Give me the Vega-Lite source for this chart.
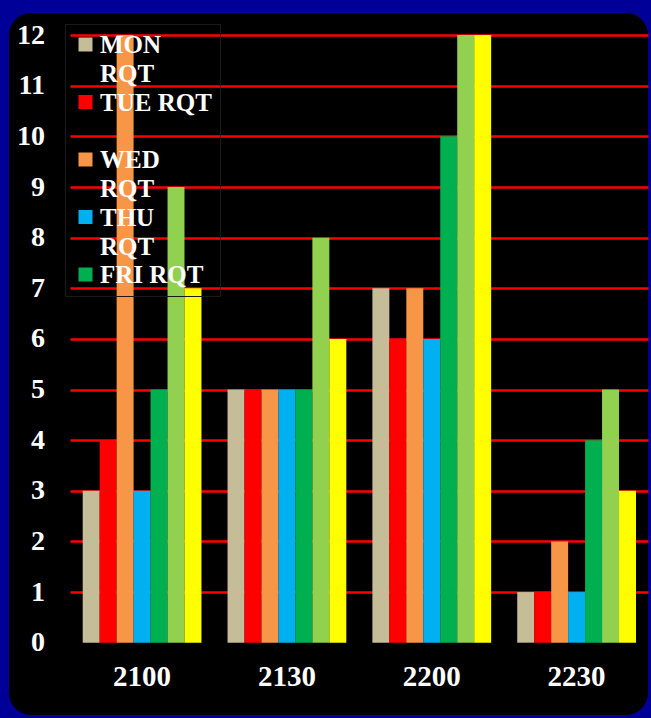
{
  "$schema": "https://vega.github.io/schema/vega-lite/v6.json",
  "width": 639,
  "height": 702,
  "autosize": {"type": "none"},
  "padding": {"left": 9, "top": 13, "right": 3, "bottom": 3},
  "background": "#000099",
  "config": {
    "view": {"fill": "#000000", "stroke": null, "cornerRadius": 22},
    "font": "Liberation Serif"
  },
  "data": {
    "values": [
      {"time": "2100", "series": "MON RQT", "value": 3},
      {"time": "2100", "series": "TUE RQT", "value": 4},
      {"time": "2100", "series": "WED RQT", "value": 12},
      {"time": "2100", "series": "THU RQT", "value": 3},
      {"time": "2100", "series": "FRI RQT", "value": 5},
      {"time": "2100", "series": "SAT RQT", "value": 9},
      {"time": "2100", "series": "SUN RQT", "value": 7},
      {"time": "2130", "series": "MON RQT", "value": 5},
      {"time": "2130", "series": "TUE RQT", "value": 5},
      {"time": "2130", "series": "WED RQT", "value": 5},
      {"time": "2130", "series": "THU RQT", "value": 5},
      {"time": "2130", "series": "FRI RQT", "value": 5},
      {"time": "2130", "series": "SAT RQT", "value": 8},
      {"time": "2130", "series": "SUN RQT", "value": 6},
      {"time": "2200", "series": "MON RQT", "value": 7},
      {"time": "2200", "series": "TUE RQT", "value": 6},
      {"time": "2200", "series": "WED RQT", "value": 7},
      {"time": "2200", "series": "THU RQT", "value": 6},
      {"time": "2200", "series": "FRI RQT", "value": 10},
      {"time": "2200", "series": "SAT RQT", "value": 12},
      {"time": "2200", "series": "SUN RQT", "value": 12},
      {"time": "2230", "series": "MON RQT", "value": 1},
      {"time": "2230", "series": "TUE RQT", "value": 1},
      {"time": "2230", "series": "WED RQT", "value": 2},
      {"time": "2230", "series": "THU RQT", "value": 1},
      {"time": "2230", "series": "FRI RQT", "value": 4},
      {"time": "2230", "series": "SAT RQT", "value": 5},
      {"time": "2230", "series": "SUN RQT", "value": 3}
    ]
  },
  "layer": [
    {
      "mark": {"type": "bar"},
      "encoding": {
        "x": {
          "field": "time",
          "type": "nominal",
          "sort": null,
          "scale": {"range": [73.7, 627], "paddingInner": 0.18, "paddingOuter": 0},
          "axis": {
            "orient": "bottom",
            "offset": -39,
            "title": null,
            "labelAngle": 0,
            "labelBaseline": "middle",
            "labelPadding": 0,
            "ticks": false,
            "tickSize": 0,
            "domain": false,
            "grid": false,
            "labelColor": "#FFFFFF",
            "labelFont": "Liberation Serif",
            "labelFontSize": 29,
            "labelFontWeight": "bold"
          }
        },
        "xOffset": {
          "field": "series",
          "type": "nominal",
          "sort": ["MON RQT", "TUE RQT", "WED RQT", "THU RQT", "FRI RQT", "SAT RQT", "SUN RQT"],
          "scale": {"paddingInner": 0, "paddingOuter": 0}
        },
        "y": {
          "field": "value",
          "type": "quantitative",
          "scale": {"domain": [0, 12], "range": [629.7, 22.1], "nice": false, "zero": true},
          "axis": {
            "orient": "left",
            "offset": -35.5,
            "title": null,
            "values": [0, 1, 2, 3, 4, 5, 6, 7, 8, 9, 10, 11, 12],
            "labelAlign": "right",
            "labelBaseline": "middle",
            "labelPadding": 0,
            "ticks": false,
            "tickSize": 0,
            "domain": false,
            "grid": false,
            "labelColor": "#FFFFFF",
            "labelFont": "Liberation Serif",
            "labelFontSize": 28,
            "labelFontWeight": "bold"
          }
        },
        "color": {
          "field": "series",
          "type": "nominal",
          "scale": {
            "domain": ["MON RQT", "TUE RQT", "WED RQT", "THU RQT", "FRI RQT", "SAT RQT", "SUN RQT"],
            "range": ["#C4BD97", "#FF0000", "#F79646", "#00B0F0", "#00B050", "#92D050", "#FFFF00"]
          },
          "legend": {
            "values": ["MON RQT", "TUE RQT", "WED RQT", "THU RQT", "FRI RQT"],
            "orient": "none",
            "legendX": 56,
            "legendY": 11,
            "title": null,
            "padding": 8,
            "strokeColor": "#1a1a1a",
            "gridAlign": "all",
            "rowPadding": 2.5,
            "labelColor": "#FFFFFF",
            "labelFont": "Liberation Serif",
            "labelFontSize": 25,
            "labelFontWeight": "bold",
            "labelBaseline": "top",
            "labelLimit": 300,
            "labelOffset": 2,
            "labelExpr": "indexof(['MON RQT','WED RQT','THU RQT'], datum.label) >= 0 ? split(datum.label, ' ') : datum.label",
            "symbolType": "square",
            "symbolSize": 196,
            "symbolStrokeWidth": 0,
            "symbolOpacity": 1,
            "encode": {"labels": {"update": {"lineHeight": {"value": 29}, "dy": {"value": -11.5}}}}
          }
        }
      }
    },
    {
      "mark": {"type": "tick", "opacity": 0},
      "encoding": {
        "y": {
          "field": "value",
          "type": "quantitative",
          "axis": {
            "orient": "right",
            "title": null,
            "values": [1, 2, 3, 4, 5, 6, 7, 8, 9, 10, 11, 12],
            "labels": false,
            "domain": false,
            "grid": false,
            "ticks": true,
            "tickSize": -578,
            "tickColor": "#FF0000",
            "tickWidth": 2.6,
            "zindex": 0
          }
        }
      }
    }
  ],
  "resolve": {"axis": {"y": "independent"}}
}
